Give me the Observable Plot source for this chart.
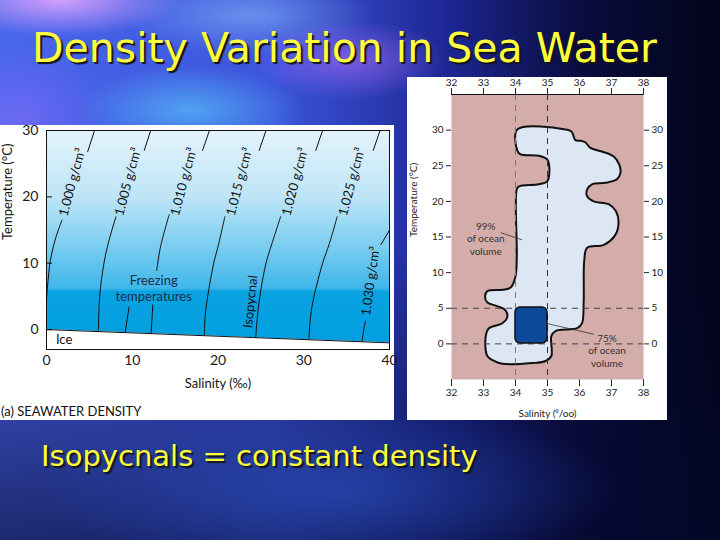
<!DOCTYPE html>
<html><head><meta charset="utf-8">
<script src="https://cdn.jsdelivr.net/npm/d3@7"></script>
<script src="https://cdn.jsdelivr.net/npm/@observablehq/plot@0.6"></script>
<style>
html,body{margin:0;padding:0;width:720px;height:540px;overflow:hidden;}
body{position:relative;font-family:Lato,sans-serif;
background:
 radial-gradient(ellipse 150px 45px at 60px 0px, rgba(235,170,255,0.85), rgba(235,170,255,0) 80%),
 radial-gradient(ellipse 120px 50px at 350px 60px, rgba(175,110,255,0.6), rgba(175,110,255,0) 80%),
 radial-gradient(ellipse 140px 55px at 190px 110px, rgba(90,210,255,0.6), rgba(90,210,255,0) 80%),
 radial-gradient(ellipse 160px 50px at 250px 15px, rgba(160,210,255,0.45), rgba(160,210,255,0) 80%),
 radial-gradient(ellipse 110px 90px at 20px 120px, rgba(150,110,255,0.45), rgba(150,110,255,0) 80%),
 radial-gradient(ellipse 360px 110px at 330px 490px, rgba(40,75,185,0.75), rgba(40,75,185,0) 80%),
 linear-gradient(180deg, rgba(0,0,0,0) 45%, rgba(4,8,45,0.65) 100%),
 linear-gradient(90deg, #4a66ec 0%, #3c55dc 38%, #1d2794 62%, #0a0d40 80%, #03041a 100%);}
#title{position:absolute;left:32px;top:28px;font-family:"DejaVu Sans";font-size:41px;line-height:1;color:#ffff3c;text-shadow:2px 2px 1px #151515;white-space:nowrap;}
#caption{position:absolute;left:41px;top:442px;font-family:"DejaVu Sans";font-size:29px;line-height:1;color:#ffff3c;text-shadow:2px 2px 1px #151515;white-space:nowrap;}
#leftPanel{position:absolute;left:0;top:125px;width:394px;height:295px;background:#fff;}
#leftPanel svg{position:absolute;left:0;top:0;overflow:visible;}
#leftNote{position:absolute;left:1px;top:280px;font-family:Lato;font-size:13px;line-height:1;color:#111;white-space:nowrap;}
#rightPanel{position:absolute;left:407px;top:77px;width:260px;height:343px;background:#fff;}
#rightPanel svg{position:absolute;left:0;top:0;overflow:visible;}
</style></head>
<body>
<div id="title">Density Variation in Sea Water</div>
<div id="leftPanel"><div id="leftNote">(a) SEAWATER DENSITY</div></div>
<div id="rightPanel"></div>
<div id="caption">Isopycnals = constant density</div>
<script>
// ---------- Left chart: seawater density (isopycnals) ----------
const xTicksLeft = [0, 10, 20, 30, 40];
const yTicksLeft = [0, 10, 20, 30];
const densityLabels = ["1.000 g/cm³", "1.005 g/cm³", "1.010 g/cm³", "1.015 g/cm³", "1.020 g/cm³", "1.025 g/cm³", "1.030 g/cm³"];
// [salinity, temperature] points read along each isopycnal; null = gap behind label
const iso1000 = [[5.6, 30], [4.8, 26.8], null, [1.8, 16.5], [1.0, 13.5], [0.45, 10.4], [0.12, 6.5], [0, 4.5]];
const iso1005 = [[12.15, 30], [11.4, 27.0], null, [8.1, 17.0], [7.3, 13.5], [6.7, 10], [6.2, 5], [6.05, -0.3]];
const iso1010 = [[19.0, 30], [18.2, 27.0], null, [14.3, 17.3], [13.3, 12.5], [12.85, 8.9], null, [12.4, 3.7], [12.2, -0.6]];
const iso1015 = [[25.6, 30], [24.8, 27.0], null, [20.8, 17.0], [20.0, 12.5], [19.5, 10], [18.8, 5], [18.5, 2], [18.4, -0.9]];
const iso1020 = [[32.2, 30], [31.4, 27.0], null, [27.3, 17.0], [26.3, 13], [25.6, 10], [25.0, 6], [24.6, 2], [24.4, -1.2]];
const iso1025 = [[38.9, 30], [38.1, 27.0], null, [33.9, 17.0], [33.0, 13], [32.2, 10], [31.2, 5], [30.8, 2], [30.6, -1.5]];
const iso1030 = [[40, 15], [39.0, 12.8], null, [37.2, 1.3], [37.0, 0], [36.8, -1.8]];
const isoPaths = [iso1000, iso1005, iso1010, iso1015, iso1020, iso1025, iso1030];
const labelS = [3.0, 9.5, 16.0, 22.5, 29.0, 35.6, 37.8];
const labelT = [22.2, 22.3, 22.3, 22.3, 22.3, 22.3, 7.3];
const labelAngle = [-75, -75, -75, -75, -75, -75, -82];
const freezeS = [0, 40];
const freezeT = [0, -2.0];

const isoRows = isoPaths.flatMap((path, i) => path.map(p => p
  ? {d: densityLabels[i], S: p[0], T: p[1]}
  : {d: densityLabels[i], S: NaN, T: NaN}));
const freezeRows = freezeS.map((s, i) => ({S: s, T: freezeT[i]}));
const labelRows = densityLabels.map((d, i) => ({d, S: labelS[i], T: labelT[i], a: labelAngle[i]}));

const left = Plot.plot({
  width: 394, height: 270,
  marginLeft: 46, marginRight: 5, marginTop: 5, marginBottom: 46,
  style: {background: "transparent", fontFamily: "Lato, sans-serif", fontSize: "14px", color: "#1a1a1a", overflow: "visible"},
  x: {domain: [0, 40], ticks: xTicksLeft, tickFormat: d => String(d), tickSize: 0, tickPadding: 6, label: null},
  y: {domain: [-3, 30], ticks: yTicksLeft, tickFormat: d => String(d), tickSize: 0, tickPadding: 8, label: null},
  marks: [
    Plot.frame({fill: "url(#seaGrad)", stroke: "none"}),
    Plot.areaY(freezeRows, {x: "S", y1: -3, y2: "T", fill: "white"}),
    Plot.line(freezeRows, {x: "S", y: "T", stroke: "#111", strokeWidth: 1}),
    Plot.line(isoRows, {x: "S", y: "T", z: "d", stroke: "#111", strokeWidth: 1, curve: "catmull-rom"}),
    Plot.text(labelRows, {x: "S", y: "T", rotate: "a", text: "d", fontSize: 13, fill: "#111"}),
    Plot.text(["Isopycnal"], {x: 23.8, y: 4.2, rotate: -84, text: d => d, fontSize: 13, fill: "#111"}),
    Plot.text(["Freezing\ntemperatures"], {x: 12.5, y: 6.25, text: d => d, fontSize: 13, lineHeight: 1.18, fill: "#18304a"}),
    Plot.link([{x1: 9.63, y1: 3.4, x2: 9.17, y2: -0.45}], {x1: "x1", y1: "y1", x2: "x2", y2: "y2", stroke: "#111", strokeWidth: 1}),
    Plot.text(["Ice"], {x: 1.1, y: -1.6, text: d => d, textAnchor: "start", fontSize: 13, fill: "#111"}),
    Plot.ruleY(yTicksLeft, {x1: 0, x2: 0.7, stroke: "#111"}),
    Plot.frame({stroke: "#111", strokeWidth: 1}),
    Plot.text(["Salinity (‰)"], {frameAnchor: "bottom", dy: 38, text: d => d, fontSize: 13, fill: "#111"}),
    Plot.text(["Temperature (°C)"], {frameAnchor: "left", dx: -39, rotate: -90, text: d => d, fontSize: 13, fill: "#111"})
  ]
});
left.insertAdjacentHTML("afterbegin",
  `<defs><linearGradient id="seaGrad" x1="0" y1="0" x2="0" y2="1">
     <stop offset="0" stop-color="#e2f3fb"/>
     <stop offset="0.3" stop-color="#bfe5f7"/>
     <stop offset="0.55" stop-color="#74cbef"/>
     <stop offset="0.72" stop-color="#3fb6ea"/>
     <stop offset="0.735" stop-color="#0aa2e1"/>
     <stop offset="1" stop-color="#009fe0"/>
   </linearGradient></defs>`);
document.getElementById("leftPanel").prepend(left);

// ---------- Right chart: T-S distribution of ocean volume ----------
const xTicksRight = [32, 33, 34, 35, 36, 37, 38];
const yTicksRight = [0, 5, 10, 15, 20, 25, 30];
const blobS = [34.06, 35.56, 35.75, 35.87, 36.05, 36.18, 36.34, 36.7, 37.07, 37.24, 37.28, 37.17, 36.81, 36.39, 36.24, 36.24, 36.44, 36.91, 37.14, 37.22, 37.12, 36.76, 36.24, 36.15, 36.13, 36.08, 35.93, 35.25, 35.12, 35.12, 34.94, 34.52, 33.59, 33.33, 33.12, 33.07, 33.17, 33.59, 33.74, 33.69, 33.43, 33.12, 33.05, 33.12, 33.59, 33.85, 34.0, 34.04, 34.04, 34.11, 34.73, 34.99, 35.06, 34.99, 34.73, 34.16, 34.06];
const blobT = [30.1, 30.1, 29.8, 28.6, 28.5, 28.3, 27.5, 27.0, 26.3, 25.2, 24.0, 23.1, 22.6, 22.4, 21.7, 20.7, 20.0, 19.6, 18.6, 17.0, 15.3, 13.9, 13.5, 11.8, 5.8, 2.9, 2.2, 1.8, 1.1, -1.7, -2.4, -2.7, -2.8, -2.4, -1.7, 1.1, 2.2, 2.9, 3.7, 4.7, 5.3, 5.8, 6.7, 7.4, 7.6, 7.9, 9.5, 12.3, 21.7, 22.1, 22.4, 22.8, 24.5, 25.9, 26.4, 26.6, 27.1];
const boxS = [34.0, 35.0];
const boxT = [0.05, 5.1];
const dashS = [34, 35];
const dashT = [0, 5];
const noteText = ["99%\nof ocean\nvolume", "75%\nof ocean\nvolume"];
const noteS = [33.07, 36.86];
const noteT = [14.8, -0.9];
const leaderX1 = [33.54, 34.94], leaderY1 = [15.6, 2.9], leaderX2 = [34.21, 36.45], leaderY2 = [14.6, 1.35];

const blobRows = blobS.map((s, i) => ({S: s, T: blobT[i]}));
const noteRows = noteText.map((t, i) => ({t, S: noteS[i], T: noteT[i]}));
const leaderRows = leaderX1.map((x, i) => ({x1: x, y1: leaderY1[i], x2: leaderX2[i], y2: leaderY2[i]}));

const right = Plot.plot({
  width: 260, height: 343,
  marginLeft: 44, marginRight: 24, marginTop: 17, marginBottom: 41,
  style: {background: "transparent", fontFamily: "Lato, sans-serif", fontSize: "10px", color: "#222", overflow: "visible"},
  x: {domain: [32, 38], ticks: xTicksRight, tickFormat: d => String(d), axis: "both", tickSize: 7, tickPadding: 2, label: null},
  y: {domain: [-5, 35], ticks: yTicksRight, tickFormat: d => String(d), axis: "both", tickSize: 5, tickPadding: 3, label: null},
  marks: [
    Plot.frame({fill: "#d4adaa", stroke: "none"}),
    Plot.line(blobRows, {x: "S", y: "T", curve: "catmull-rom-closed", fill: "#dde6f3", stroke: "#111", strokeWidth: 2}),
    Plot.ruleX([dashS[0]], {stroke: "#7a7a7a", strokeDasharray: "6,5"}),
    Plot.ruleX([dashS[1]], {stroke: "#333", strokeDasharray: "6,5"}),
    Plot.ruleY(dashT, {stroke: "#444", strokeDasharray: "6,5"}),
    Plot.rect([{x1: boxS[0], x2: boxS[1], y1: boxT[0], y2: boxT[1]}], {x1: "x1", x2: "x2", y1: "y1", y2: "y2", rx: 5, fill: "#0c4b9c", stroke: "#111", strokeWidth: 1.5}),
    Plot.link(leaderRows, {x1: "x1", y1: "y1", x2: "x2", y2: "y2", stroke: "#333", strokeWidth: 0.8}),
    Plot.text(noteRows, {x: "S", y: "T", text: "t", fontSize: 10, lineHeight: 1.25, fill: "#333"}),
    Plot.ruleY([35], {stroke: "#111", strokeWidth: 1.2}),
    Plot.text(["Salinity (⁰/oo)"], {frameAnchor: "bottom", dy: 37, text: d => d, fontSize: 10, fill: "#222"}),
    Plot.text(["Temperature (°C)"], {frameAnchor: "left", dx: -38, rotate: -90, text: d => d, fontSize: 10, fill: "#222"})
  ]
});
document.getElementById("rightPanel").appendChild(right);
</script>
</body></html>
